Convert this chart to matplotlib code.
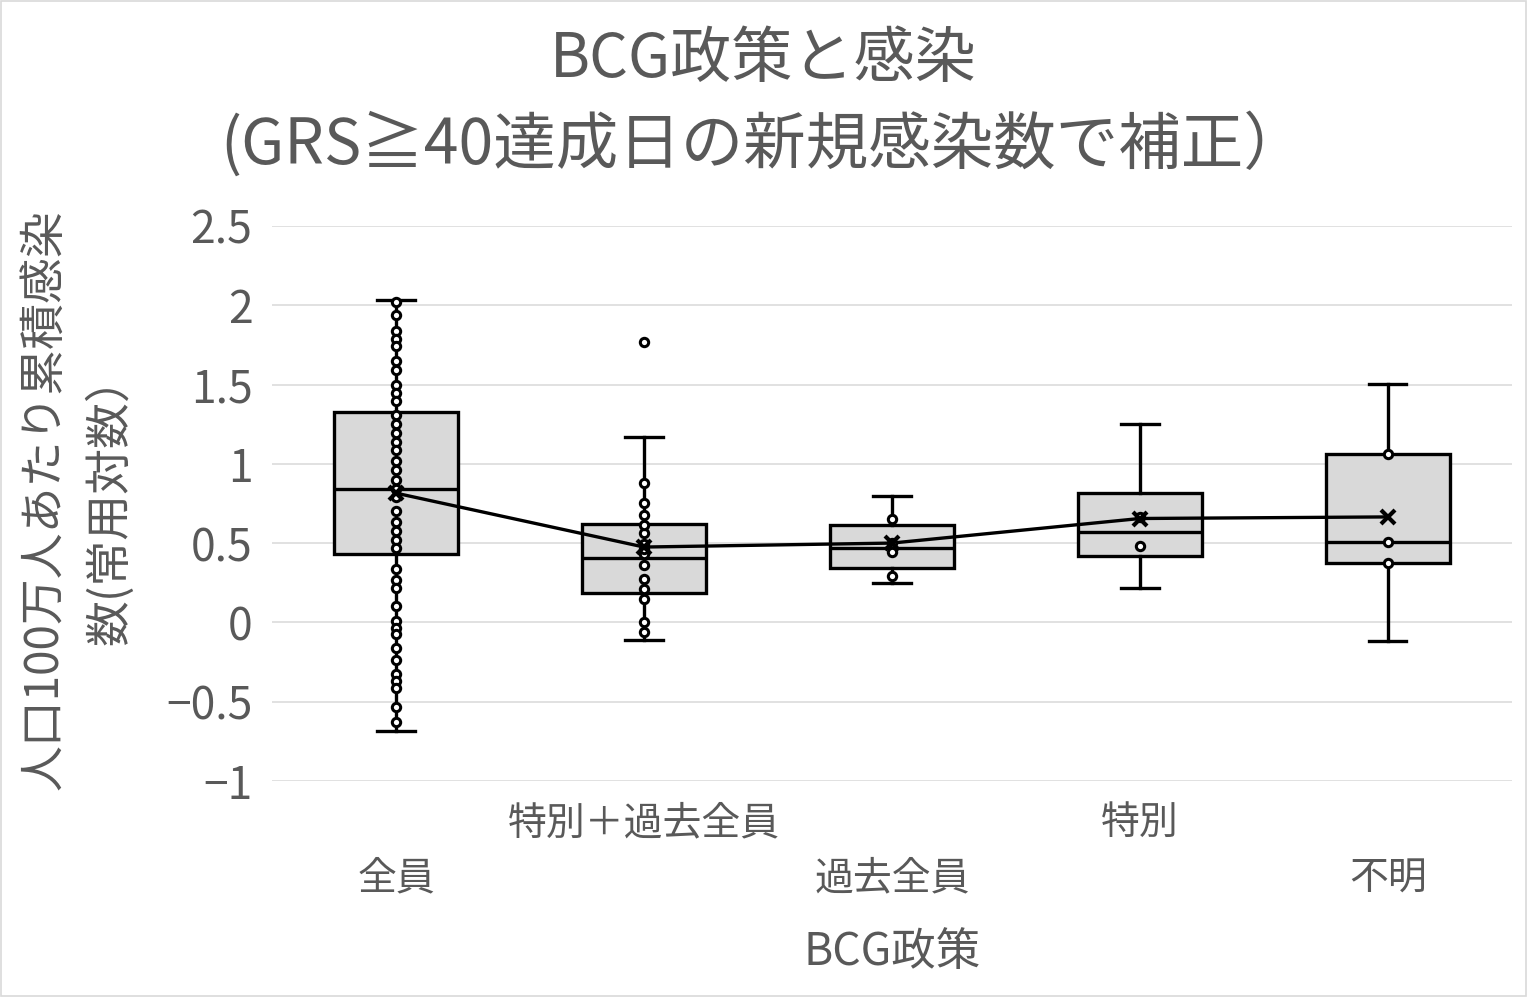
import matplotlib
matplotlib.use("Agg")
import matplotlib.pyplot as plt
from matplotlib.patches import Rectangle

plt.rcParams['font.family'] = ['Noto Sans CJK JP', 'DejaVu Sans']

# categories (BCG policy)
categories = ['全員', '特別＋過去全員', '過去全員', '特別', '不明']

# box statistics
q1 = [0.429, 0.187, 0.340, 0.418, 0.372]
medians = [0.840, 0.403, 0.467, 0.572, 0.509]
q3 = [1.326, 0.618, 0.614, 0.813, 1.059]
whis_lo = [-0.685, -0.111, 0.246, 0.219, -0.118]
whis_hi = [2.030, 1.171, 0.800, 1.248, 1.505]
means = [0.815, 0.475, 0.500, 0.655, 0.665]
outliers = [[], [1.770], [], [], []]

# inner points
points = [
    [2.02, 1.936, 1.837, 1.789, 1.742, 1.648, 1.591, 1.50, 1.448, 1.395,
     1.305, 1.248, 1.192, 1.137, 1.087, 1.015, 0.963, 0.900, 0.842, 0.788,
     0.700, 0.630, 0.574, 0.521, 0.466, 0.339, 0.265, 0.219, 0.103, 0.008,
     -0.034, -0.076, -0.160, -0.240, -0.328, -0.370, -0.412, -0.532, -0.628],
    [-0.061, 0.002, 0.149, 0.212, 0.276, 0.359, 0.429, 0.460, 0.492, 0.566,
     0.612, 0.675, 0.750, 0.881],
    [0.292, 0.443, 0.500, 0.652],
    [0.481, 0.662],
    [0.372, 0.509, 1.059],
]

yticks = [-1, -0.5, 0, 0.5, 1, 1.5, 2, 2.5]
ytick_labels = ['−1', '−0.5', '0', '0.5', '1', '1.5', '2', '2.5']

text_color = '#595959'

fig = plt.figure(figsize=(15.27, 9.97), dpi=100)
ax = fig.add_axes([0.1781, 0.2167, 0.812, 0.5567])

pos = list(range(len(categories)))
stats = []
for i in pos:
    stats.append({'med': medians[i], 'q1': q1[i], 'q3': q3[i],
                  'whislo': whis_lo[i], 'whishi': whis_hi[i],
                  'fliers': outliers[i], 'label': categories[i]})

lw = 2.4
dot = dict(marker='o', markersize=6, markerfacecolor='white',
           markeredgecolor='black', markeredgewidth=2.2)
ax.bxp(stats, positions=pos, widths=0.5, patch_artist=True,
       boxprops=dict(facecolor='#d9d9d9', edgecolor='black', linewidth=lw),
       medianprops=dict(color='black', linewidth=lw),
       whiskerprops=dict(color='black', linewidth=lw),
       capprops=dict(color='black', linewidth=lw),
       capwidths=0.15,
       flierprops=dot,
       zorder=2)

# mean line
ax.plot(pos, means, color='black', linewidth=2.4, zorder=3)

# inner points
for i in pos:
    ax.plot([i] * len(points[i]), points[i], linestyle='none', zorder=4, **dot)

# mean markers
ax.plot(pos, means, linestyle='none', marker='x', markersize=10,
        markeredgewidth=3, color='black', zorder=5)

ax.set_xlim(-0.5, len(categories) - 0.5)
ax.set_ylim(-1, 2.5)
ax.set_yticks(yticks)
ax.set_yticklabels(ytick_labels, fontsize=32, color=text_color)
ax.set_xticks(pos)
ax.set_xticklabels(categories, fontsize=28, color=text_color)
ax.tick_params(axis='both', length=0)
ax.tick_params(axis='y', pad=14)
for i, tick in enumerate(ax.xaxis.get_major_ticks()):
    tick.set_pad(56 if i % 2 == 0 else 16)

ax.grid(axis='y', color='#d9d9d9', linewidth=1.1, zorder=0)
ax.set_axisbelow(True)
for s in ax.spines.values():
    s.set_visible(False)

# titles and labels
fig.text(0.5, 0.94, 'BCG政策と感染', ha='center', va='center',
         fontsize=44, color=text_color)
fig.text(0.5, 0.8546, '(GRS≧40達成日の新規感染数で補正）', ha='center',
         va='center', fontsize=45, color=text_color)
fig.text(0.584, 0.0451, 'BCG政策', ha='center', va='center',
         fontsize=32, color=text_color)
fig.text(0.0295, 0.4985, '人口100万人あたり累積感染', rotation=90,
         ha='center', va='center', fontsize=33, color=text_color)
fig.text(0.072, 0.4985, '数(常用対数）', rotation=90,
         ha='center', va='center', fontsize=33, color=text_color)

fig.patches.append(Rectangle((0.0005, 0.0008), 0.999, 0.998,
                             transform=fig.transFigure, fill=False,
                             edgecolor='#d9d9d9', linewidth=1.2))

fig.savefig('out.png', dpi=100)
